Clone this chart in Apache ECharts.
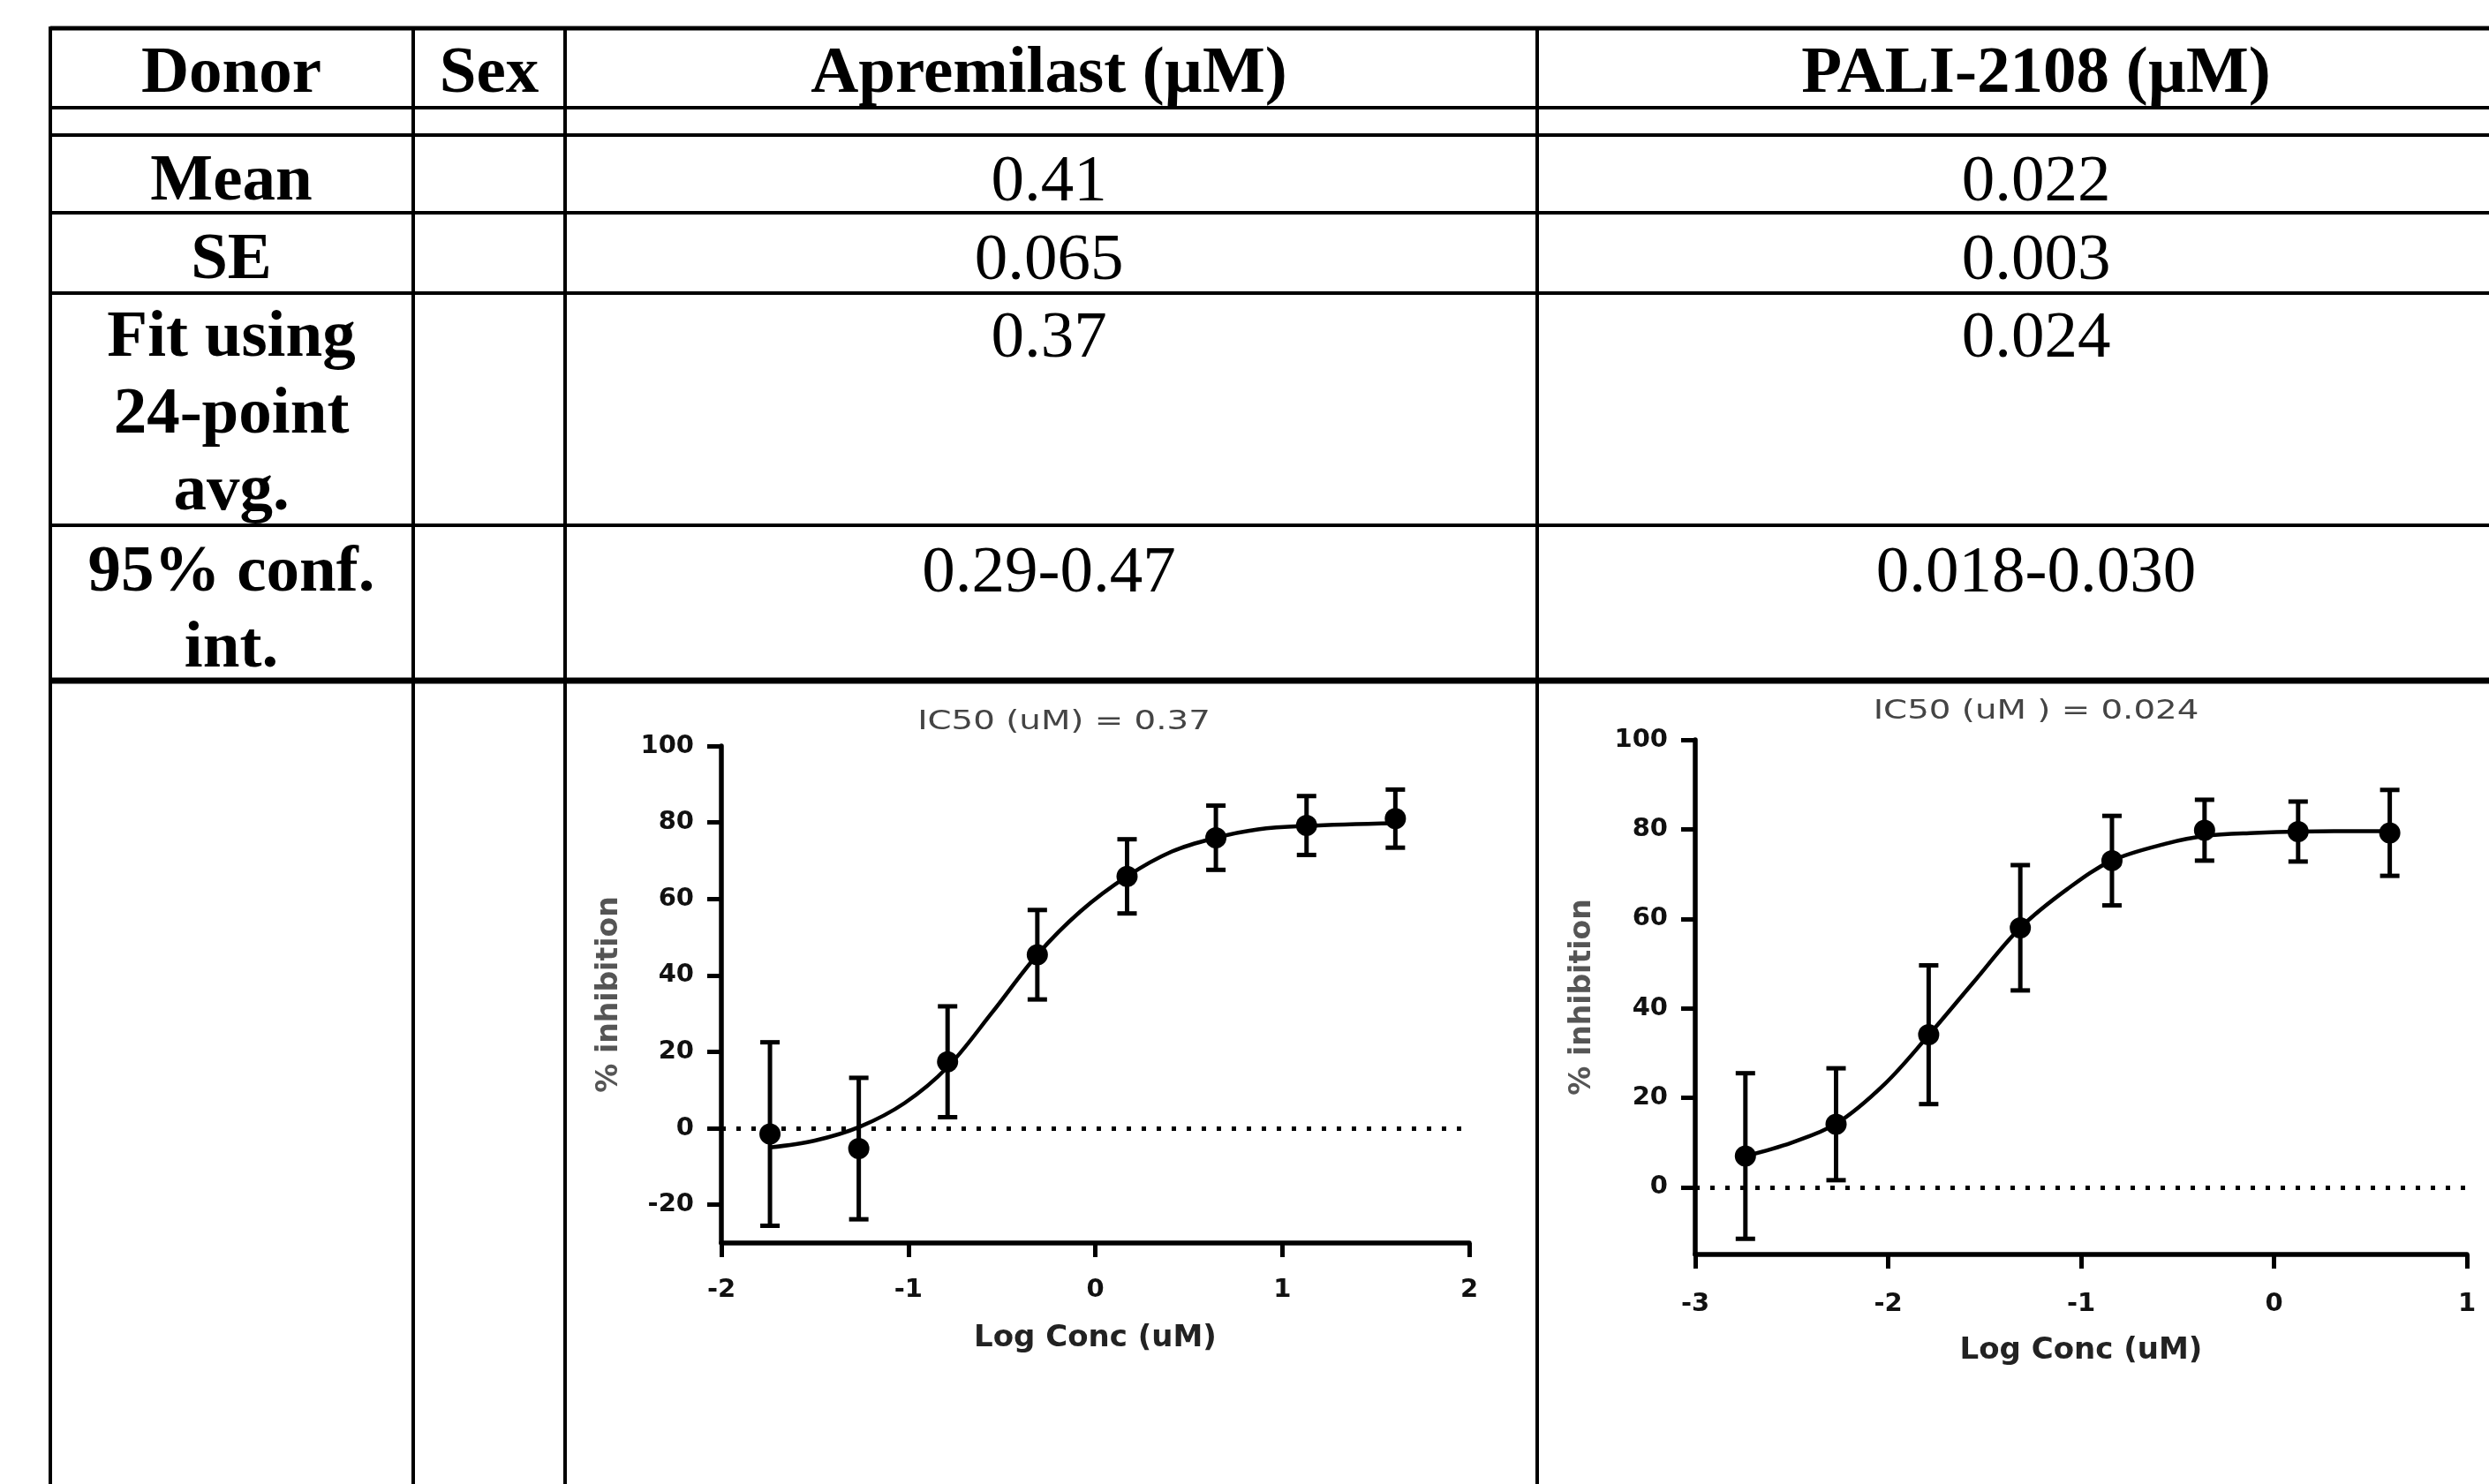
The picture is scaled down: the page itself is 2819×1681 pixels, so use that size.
<!DOCTYPE html>
<html>
<head>
<meta charset="utf-8">
<script src="https://cdn.jsdelivr.net/npm/echarts@6/dist/echarts.min.js"></script>
<style>
html, body { margin: 0; padding: 0; background: #fff; }
#main { width: 2819px; height: 1681px; }
</style>
</head>
<body>
<div id="main"></div>
<script>
// table contents
var tableHeaders = ['Donor', 'Sex', 'Apremilast (µM)', 'PALI-2108 (µM)'];
var rowLabels = [['Mean'], ['SE'], ['Fit using', '24-point', 'avg.'], ['95% conf.', 'int.']];
var apremStats = ['0.41', '0.065', '0.37', '0.29-0.47'];
var paliStats = ['0.022', '0.003', '0.024', '0.018-0.030'];

// apremilast dose response (log uM / % inhibition / SEM)
var apremLogConc = [-1.74, -1.265, -0.79, -0.31, 0.17, 0.645, 1.13, 1.605];
var apremMean = [-1.5, -5.3, 17.4, 45.4, 65.9, 76, 79.2, 81];
var apremSem = [24, 18.5, 14.5, 11.7, 9.7, 8.4, 7.7, 7.6];
// fitted curve
var apremFitX = [-1.74, -1.5, -1.26, -1.02, -0.79, -0.55, -0.31, -0.08, 0.17, 0.41, 0.645, 0.87, 1.13, 1.605];
var apremFitY = [-5, -3.2, 0.4, 6.6, 16, 30.4, 45.4, 56.7, 65.9, 72.4, 76, 78.2, 79.1, 79.8];
var apremYTicks = [-20, 0, 20, 40, 60, 80, 100];
var apremTitle = 'IC50 (uM) = 0.37';

// PALI-2108 dose response
var paliLogConc = [-2.74, -2.27, -1.79, -1.315, -0.84, -0.36, 0.125, 0.6];
var paliMean = [7, 14.1, 34.1, 58, 73, 79.8, 79.5, 79.2];
var paliSem = [18.5, 12.5, 15.5, 14, 10, 6.8, 6.7, 9.6];
var paliFitX = [-2.74, -2.5, -2.27, -2.02, -1.79, -1.56, -1.315, -1.07, -0.84, -0.55, -0.36, -0.1, 0.125, 0.6];
var paliFitY = [7, 10, 14.2, 23, 34, 45.7, 58, 66.7, 73, 76.9, 78.5, 79.2, 79.5, 79.6];
var paliYTicks = [0, 20, 40, 60, 80, 100];
var paliTitle = 'IC50 (uM ) = 0.024';

var chart = echarts.init(document.getElementById('main'));

var serif = '"Liberation Serif", "Times New Roman", serif';
var sans = '"DejaVu Sans", sans-serif';

// ---- table drawn with graphic elements ----
var graphics = [];
function hLine(y, w) {
  graphics.push({ type: 'line', shape: { x1: 57, y1: y, x2: 2819, y2: y }, style: { stroke: '#000', lineWidth: w } });
}
function vLine(x) {
  graphics.push({ type: 'line', shape: { x1: x, y1: 30, x2: x, y2: 1681 }, style: { stroke: '#000', lineWidth: 4 } });
}
function cellText(x, y, s, bold) {
  graphics.push({
    type: 'text', x: x, y: y + 7,
    style: {
      text: s, fill: '#000', fontFamily: serif, fontSize: 75,
      fontWeight: bold ? 'bold' : 'normal',
      align: 'center', verticalAlign: 'middle', textAlign: 'center', textVerticalAlign: 'middle'
    }
  });
}
hLine(32, 5); hLine(122, 4); hLine(153, 4); hLine(241, 4); hLine(332, 4); hLine(595, 4); hLine(771, 7);
vLine(57); vLine(468); vLine(640); vLine(1741);

var colX = [262, 554, 1188, 2306];
tableHeaders.forEach(function (h, i) { cellText(colX[i], 78, h, true); });

var rowY = [[200], [289], [377, 464, 551], [643, 729]];
rowLabels.forEach(function (lines, r) {
  lines.forEach(function (s, k) { cellText(colX[0], rowY[r][k], s, true); });
  cellText(colX[2], rowY[r][0], apremStats[r], false);
  cellText(colX[3], rowY[r][0], paliStats[r], false);
});

// plot titles
function plotTitle(x, y, s) {
  graphics.push({
    type: 'text', x: x, y: y, scaleX: 1.25,
    style: {
      text: s, fill: '#444', fontFamily: sans, fontSize: 31,
      align: 'center', verticalAlign: 'middle', textAlign: 'center', textVerticalAlign: 'middle'
    }
  });
}
plotTitle(1205, 818, apremTitle);
plotTitle(2306, 806, paliTitle);

// ---- chart helpers ----
function xAxisCfg(idx, min, max, labelMargin, nameGap) {
  return {
    type: 'value', gridIndex: idx, min: min, max: max, interval: 1,
    name: 'Log Conc (uM)', nameLocation: 'middle', nameGap: nameGap,
    nameTextStyle: { fontFamily: sans, fontSize: 34, fontWeight: 'bold', color: '#222' },
    axisLine: { show: true, onZero: false, lineStyle: { color: '#000', width: 5.5 } },
    axisTick: { show: true, length: 16, lineStyle: { color: '#000', width: 5 } },
    axisLabel: { fontFamily: sans, fontSize: 29, fontWeight: 'bold', color: '#111', margin: labelMargin },
    splitLine: { show: false }
  };
}
function yAxisCfg(idx, min, ticks, nameGap) {
  return {
    type: 'value', gridIndex: idx, min: min, max: 100,
    name: '% inhibition', nameLocation: 'middle', nameGap: nameGap,
    nameTextStyle: { fontFamily: sans, fontSize: 33, fontWeight: 'bold', color: '#555' },
    axisLine: { show: true, onZero: false, lineStyle: { color: '#000', width: 5.5 } },
    axisTick: { show: true, length: 16, customValues: ticks, lineStyle: { color: '#000', width: 5 } },
    axisLabel: { fontFamily: sans, fontSize: 29, fontWeight: 'bold', color: '#111', margin: 31, customValues: ticks },
    splitLine: { show: false }
  };
}

function fitSeries(idx, xs, ys) {
  return {
    type: 'line', xAxisIndex: idx, yAxisIndex: idx,
    data: xs.map(function (x, i) { return [x, ys[i]]; }),
    showSymbol: false, smooth: 0.35,
    lineStyle: { color: '#000', width: 4.5 },
    z: 2,
    markLine: {
      silent: true, symbol: 'none', label: { show: false },
      lineStyle: { color: '#000', width: 5, type: [5, 12] },
      data: [{ yAxis: 0 }]
    }
  };
}

function errorSeries(idx, xs, means, errs) {
  return {
    type: 'custom', xAxisIndex: idx, yAxisIndex: idx,
    data: xs.map(function (x, i) { return [x, means[i] - errs[i], means[i] + errs[i]]; }),
    encode: { x: 0, y: [1, 2] },
    z: 3,
    renderItem: function (params, api) {
      var lo = api.coord([api.value(0), api.value(1)]);
      var hi = api.coord([api.value(0), api.value(2)]);
      var half = 11;
      var st = { stroke: '#000', lineWidth: 5 };
      return {
        type: 'group',
        children: [
          { type: 'line', shape: { x1: hi[0], y1: hi[1], x2: lo[0], y2: lo[1] }, style: st },
          { type: 'line', shape: { x1: hi[0] - half, y1: hi[1], x2: hi[0] + half, y2: hi[1] }, style: st },
          { type: 'line', shape: { x1: lo[0] - half, y1: lo[1], x2: lo[0] + half, y2: lo[1] }, style: st }
        ]
      };
    }
  };
}

function meanSeries(idx, xs, means) {
  return {
    type: 'scatter', xAxisIndex: idx, yAxisIndex: idx,
    data: xs.map(function (x, i) { return [x, means[i]]; }),
    symbol: 'circle', symbolSize: 24,
    itemStyle: { color: '#000', opacity: 1 },
    z: 4
  };
}

var option = {
  backgroundColor: '#fff',
  animation: false,
  grid: [
    { left: 817, top: 845, width: 847, height: 563 },
    { left: 1920, top: 838, width: 874, height: 583 }
  ],
  xAxis: [
    xAxisCfg(0, -2, 2, 39, 91),
    xAxisCfg(1, -3, 1, 42, 92)
  ],
  yAxis: [
    yAxisCfg(0, -30, apremYTicks, 110),
    yAxisCfg(1, -15, paliYTicks, 111)
  ],
  series: [
    fitSeries(0, apremFitX, apremFitY),
    errorSeries(0, apremLogConc, apremMean, apremSem),
    meanSeries(0, apremLogConc, apremMean),
    fitSeries(1, paliFitX, paliFitY),
    errorSeries(1, paliLogConc, paliMean, paliSem),
    meanSeries(1, paliLogConc, paliMean)
  ],
  graphic: graphics
};

chart.setOption(option);
</script>
</body>
</html>
